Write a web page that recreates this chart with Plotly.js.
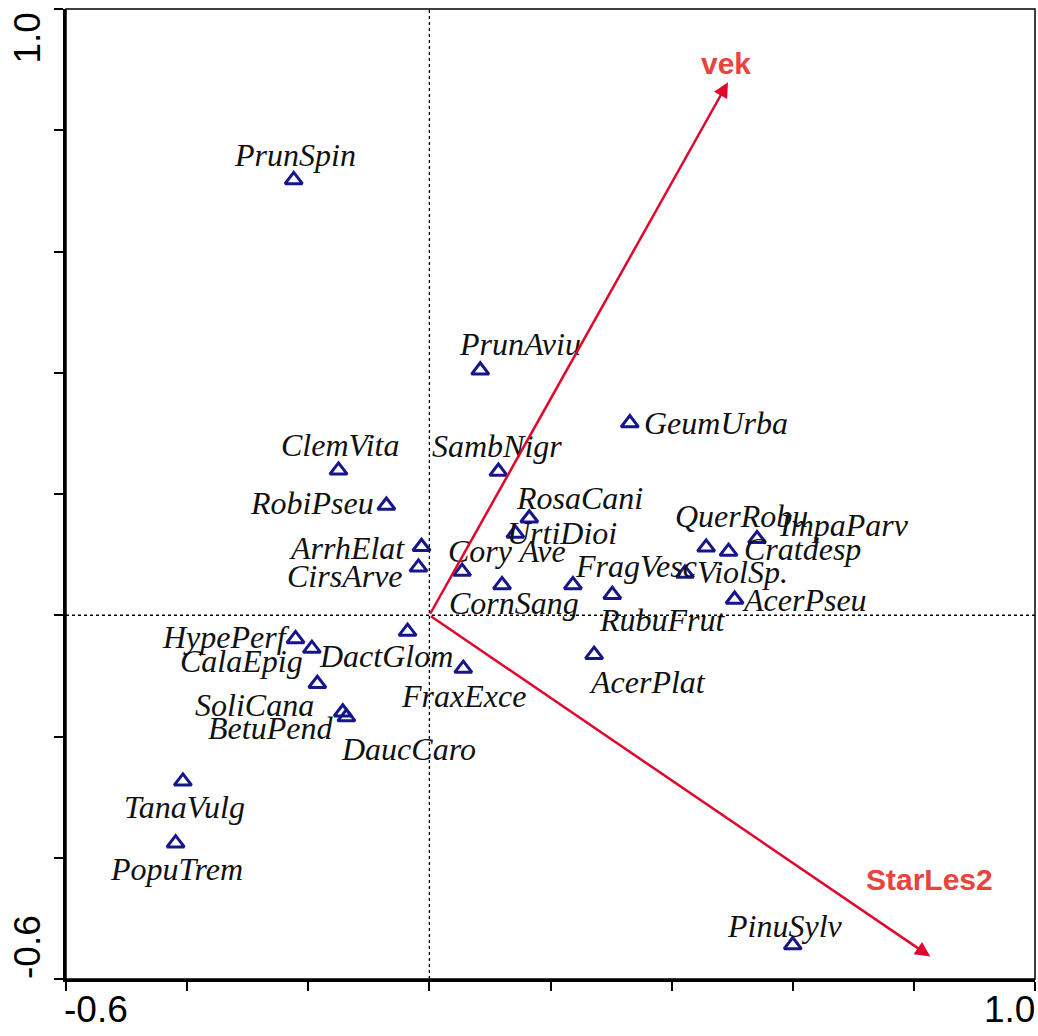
<!DOCTYPE html>
<html>
<head>
<meta charset="utf-8">
<script src="https://cdn.plot.ly/plotly-3.0.1.min.js"></script>
<style>html,body{margin:0;padding:0;background:#fff;}#chart{width:1038px;height:1036px;}</style>
</head>
<body>
<div id="chart"></div>
<script>
// ---- data ----
const species = ["PrunSpin","PrunAviu","GeumUrba","ClemVita","SambNigr","RobiPseu","RosaCani","UrtiDioi",
  "QuerRobu","ImpaParv","Cratdesp","ArrhElat","Cory Ave","CirsArve","ViolSp.","FragVesc","CornSang",
  "RubuFrut","AcerPseu","HypePerf","CalaEpig","DactGlom","FraxExce","AcerPlat","SoliCana","BetuPend",
  "DaucCaro","TanaVulg","PopuTrem","PinuSylv"];
const axis1 = [-0.224,0.084,0.331,-0.150,0.114,-0.071,0.165,0.142,
  0.457,0.541,0.494,-0.013,0.054,-0.018,0.422,0.237,0.120,
  0.302,0.504,-0.221,-0.194,-0.036,0.056,0.272,-0.185,-0.143,
  -0.137,-0.407,-0.419,0.600];
const axis2 = [0.718,0.404,0.317,0.239,0.237,0.181,0.160,0.135,
  0.112,0.126,0.105,0.113,0.072,0.079,0.069,0.050,0.050,
  0.034,0.026,-0.039,-0.055,-0.027,-0.088,-0.065,-0.113,-0.160,
  -0.168,-0.274,-0.376,-0.544];
const envVars = ["vek","StarLes2"];
const envAxis1 = [0.493,0.827];
const envAxis2 = [0.879,-0.563];
const tickLabelsX = ["-0.6","1.0"];
const tickLabelsY = ["-0.6","1.0"];

// ---- label placement (pixels, relative to marker) ----
const labelDx = [1,40,86,2,-1,-74,50,47, 35,87,74,-75,45,-73,58,63,12, 50,70,-70,-70,-22,0,53,-63,-72, 62,2,1,-8];
const labelDy = [25,26,0,25,26,3,20,0, 31,14,3,-1,21,-9,1,19,-18, -25,-1,2,-12,-24,-27,-27,-21,-16, -32,-26,-26,19];

const red = "#e0062c";
const annotations = [];
species.forEach((s,i)=>{
  annotations.push({x:axis1[i], y:axis2[i], xref:"x", yref:"y", text:"<i>"+s+"</i>", showarrow:false,
    xshift:labelDx[i], yshift:labelDy[i],
    font:{family:"Liberation Serif, Times New Roman, serif", size:32, color:"#111"}});
});
// arrows
envVars.forEach((v,i)=>{
  annotations.push({x:envAxis1[i], y:envAxis2[i], xref:"x", yref:"y", ax:0, ay:0, axref:"x", ayref:"y",
    showarrow:true, arrowhead:2, arrowsize:1.2, arrowwidth:2.5, arrowcolor:red, text:""});
});
annotations.push({x:envAxis1[0], y:envAxis2[0], xref:"x", yref:"y", text:"<b>"+envVars[0]+"</b>", showarrow:false,
  xshift:-2, yshift:19, font:{family:"Liberation Sans, Arial, sans-serif", size:30, color:"#e8433d"}});
annotations.push({x:envAxis1[1], y:envAxis2[1], xref:"x", yref:"y", text:"<b>"+envVars[1]+"</b>", showarrow:false,
  xshift:-1, yshift:77, font:{family:"Liberation Sans, Arial, sans-serif", size:30, color:"#e8433d"}});
// tick labels
const tickFont = {family:"Liberation Sans, Arial, sans-serif", size:37, color:"#000"};
annotations.push({x:-0.6, y:0, xref:"x", yref:"paper", yanchor:"top", xanchor:"left", yshift:-8, xshift:-4, text:tickLabelsX[0], showarrow:false, font:tickFont});
annotations.push({x:1.0, y:0, xref:"x", yref:"paper", yanchor:"top", xanchor:"right", yshift:-8, xshift:2, text:tickLabelsX[1], showarrow:false, font:tickFont});
annotations.push({x:0, y:-0.6, xref:"paper", yref:"y", xanchor:"center", yanchor:"bottom", xshift:-39, yshift:-2, textangle:-90, text:tickLabelsY[0], showarrow:false, font:tickFont});
annotations.push({x:0, y:1.0, xref:"paper", yref:"y", xanchor:"center", yanchor:"top", xshift:-39, yshift:-2, textangle:-90, text:tickLabelsY[1], showarrow:false, font:tickFont});

const traces = [{
  x:axis1, y:axis2, mode:"markers", type:"scatter", text:species, hoverinfo:"text",
  marker:{symbol:"triangle-up-open", size:15, color:"#16168a", line:{width:3, color:"#16168a"}}
}];

const layout = {
  width:1038, height:1036,
  margin:{l:66, r:3, t:9, b:57},
  paper_bgcolor:"#fff", plot_bgcolor:"#fff",
  showlegend:false,
  xaxis:{range:[-0.6,1.0], dtick:0.2, tick0:-0.6, showticklabels:false, showgrid:false, zeroline:false,
    showline:true, linewidth:3, linecolor:"#000", ticks:"outside", ticklen:9, tickwidth:2, tickcolor:"#000"},
  yaxis:{range:[-0.6,1.0], dtick:0.2, tick0:-0.6, showticklabels:false, showgrid:false, zeroline:false,
    showline:true, linewidth:3, linecolor:"#000", ticks:"outside", ticklen:9, tickwidth:2, tickcolor:"#000"},
  shapes:[
    {type:"rect", xref:"paper", yref:"paper", x0:0, x1:1, y0:0, y1:1, line:{color:"#000", width:1.5}},
    {type:"line", xref:"x", yref:"paper", x0:0, x1:0, y0:0, y1:1, line:{color:"#000", width:1.3, dash:"3px,3px"}},
    {type:"line", xref:"paper", yref:"y", x0:0, x1:1, y0:0, y1:0, line:{color:"#000", width:1.3, dash:"3px,3px"}}
  ],
  annotations:annotations
};
Plotly.newPlot("chart", traces, layout, {staticPlot:true});
</script>
</body>
</html>
